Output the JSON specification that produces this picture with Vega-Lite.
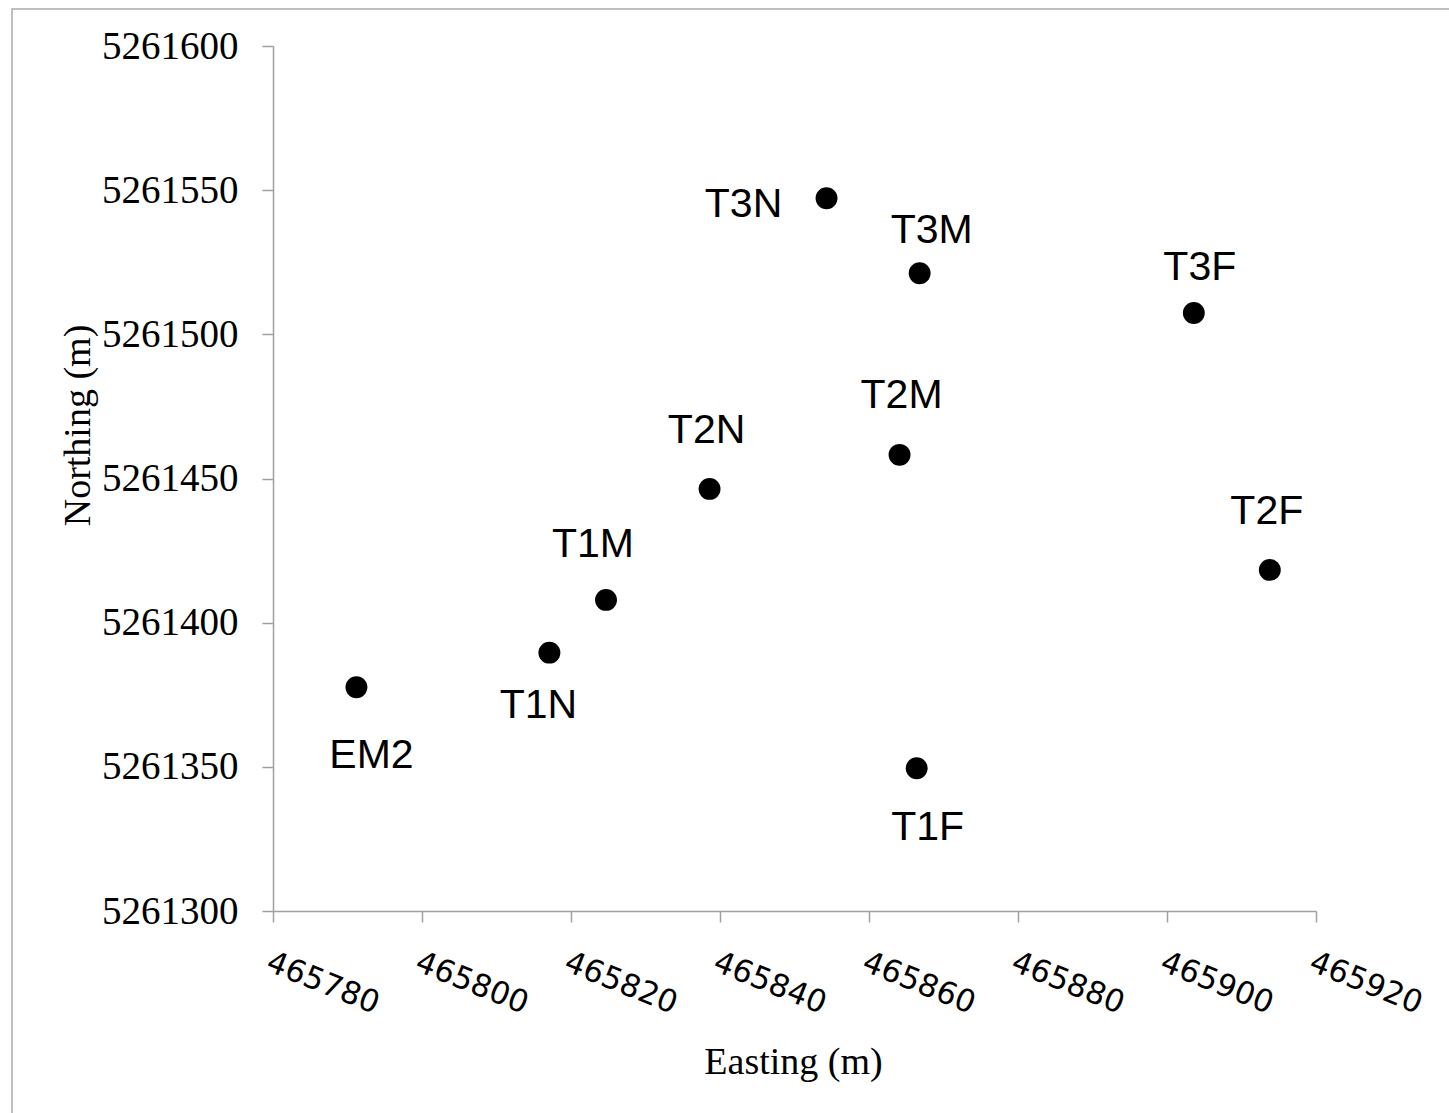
{
  "$schema": "https://vega.github.io/schema/vega-lite/v6.json",
  "autosize": "none",
  "width": 1441,
  "height": 1108,
  "padding": {"left": 12, "top": 9, "right": 0, "bottom": 0},
  "background": "white",
  "config": {
    "view": {"stroke": "#aaaaaa", "strokeWidth": 1.5},
    "axis": {
      "domainColor": "#a0a0a0",
      "domainWidth": 1.5,
      "tickColor": "#a0a0a0",
      "tickWidth": 1.5,
      "tickSize": 11,
      "grid": false,
      "labelColor": "black",
      "titleColor": "black",
      "titleFont": "Liberation Serif",
      "titleFontSize": 38,
      "titleFontWeight": "normal"
    }
  },
  "data": {
    "values": [
      {"label": "EM2", "easting": 465791.2, "northing": 5261377.6},
      {"label": "T1N", "easting": 465817.1, "northing": 5261389.6},
      {"label": "T1M", "easting": 465824.7, "northing": 5261407.9},
      {"label": "T2N", "easting": 465838.6, "northing": 5261446.4},
      {"label": "T3N", "easting": 465854.3, "northing": 5261547.2},
      {"label": "T3M", "easting": 465866.8, "northing": 5261521.2},
      {"label": "T2M", "easting": 465864.1, "northing": 5261458.2},
      {"label": "T1F", "easting": 465866.4, "northing": 5261349.5},
      {"label": "T3F", "easting": 465903.6, "northing": 5261507.4},
      {"label": "T2F", "easting": 465913.8, "northing": 5261418.3}
    ]
  },
  "encoding": {
    "x": {
      "field": "easting",
      "type": "quantitative",
      "scale": {"domain": [465780, 465920], "range": [261, 1304], "nice": false, "zero": false},
      "axis": {
        "title": "Easting (m)",
        "offset": -206,
        "values": [465780, 465800, 465820, 465840, 465860, 465880, 465900, 465920],
        "format": "d",
        "labelFont": "DejaVu Sans",
        "labelFontSize": 31,
        "labelAngle": 22,
        "labelAlign": "left",
        "labelBaseline": "top",
        "labelPadding": 25,
        "labelOverlap": false,
        "titleX": 781,
        "titleY": 162,
        "titleBaseline": "alphabetic",
        "titleAlign": "center"
      }
    },
    "y": {
      "field": "northing",
      "type": "quantitative",
      "scale": {"domain": [5261300, 5261600], "range": [902, 37], "nice": false, "zero": false},
      "axis": {
        "title": "Northing (m)",
        "offset": -261,
        "values": [5261300, 5261350, 5261400, 5261450, 5261500, 5261550, 5261600],
        "format": "d",
        "labelFont": "Liberation Serif",
        "labelFontSize": 39,
        "labelPadding": 24,
        "labelBaseline": "middle",
        "labelOverlap": false,
        "titleX": -184,
        "titleY": 416,
        "titleAngle": 270,
        "titleBaseline": "alphabetic",
        "titleAlign": "center"
      }
    }
  },
  "layer": [
    {"mark": {"type": "circle", "size": 480, "color": "black", "opacity": 1}},
    {"transform": [{"filter": "datum.label == 'T3N'"}], "mark": {"type": "text", "font": "Liberation Sans", "fontSize": 41, "align": "center", "baseline": "alphabetic", "dx": -83, "dy": 19}, "encoding": {"text": {"field": "label"}}},
    {"transform": [{"filter": "datum.label == 'T3M'"}], "mark": {"type": "text", "font": "Liberation Sans", "fontSize": 41, "align": "center", "baseline": "alphabetic", "dx": 12, "dy": -30}, "encoding": {"text": {"field": "label"}}},
    {"transform": [{"filter": "datum.label == 'EM2'"}], "mark": {"type": "text", "font": "Liberation Sans", "fontSize": 41, "align": "center", "baseline": "alphabetic", "dx": 15, "dy": 81}, "encoding": {"text": {"field": "label"}}},
    {"transform": [{"filter": "datum.label == 'T1N'"}], "mark": {"type": "text", "font": "Liberation Sans", "fontSize": 41, "align": "center", "baseline": "alphabetic", "dx": -11, "dy": 65}, "encoding": {"text": {"field": "label"}}},
    {"transform": [{"filter": "datum.label == 'T1F'"}], "mark": {"type": "text", "font": "Liberation Sans", "fontSize": 41, "align": "center", "baseline": "alphabetic", "dx": 11, "dy": 72}, "encoding": {"text": {"field": "label"}}},
    {"transform": [{"filter": "datum.label == 'T3F'"}], "mark": {"type": "text", "font": "Liberation Sans", "fontSize": 41, "align": "center", "baseline": "alphabetic", "dx": 6, "dy": -33}, "encoding": {"text": {"field": "label"}}},
    {"transform": [{"filter": "datum.label == 'T2M'"}], "mark": {"type": "text", "font": "Liberation Sans", "fontSize": 41, "align": "center", "baseline": "alphabetic", "dx": 2, "dy": -47}, "encoding": {"text": {"field": "label"}}},
    {"transform": [{"filter": "datum.label == 'T2N'"}], "mark": {"type": "text", "font": "Liberation Sans", "fontSize": 41, "align": "center", "baseline": "alphabetic", "dx": -3, "dy": -46}, "encoding": {"text": {"field": "label"}}},
    {"transform": [{"filter": "datum.label == 'T1M'"}], "mark": {"type": "text", "font": "Liberation Sans", "fontSize": 41, "align": "center", "baseline": "alphabetic", "dx": -13, "dy": -43}, "encoding": {"text": {"field": "label"}}},
    {"transform": [{"filter": "datum.label == 'T2F'"}], "mark": {"type": "text", "font": "Liberation Sans", "fontSize": 41, "align": "center", "baseline": "alphabetic", "dx": -3, "dy": -46}, "encoding": {"text": {"field": "label"}}}
  ]
}
